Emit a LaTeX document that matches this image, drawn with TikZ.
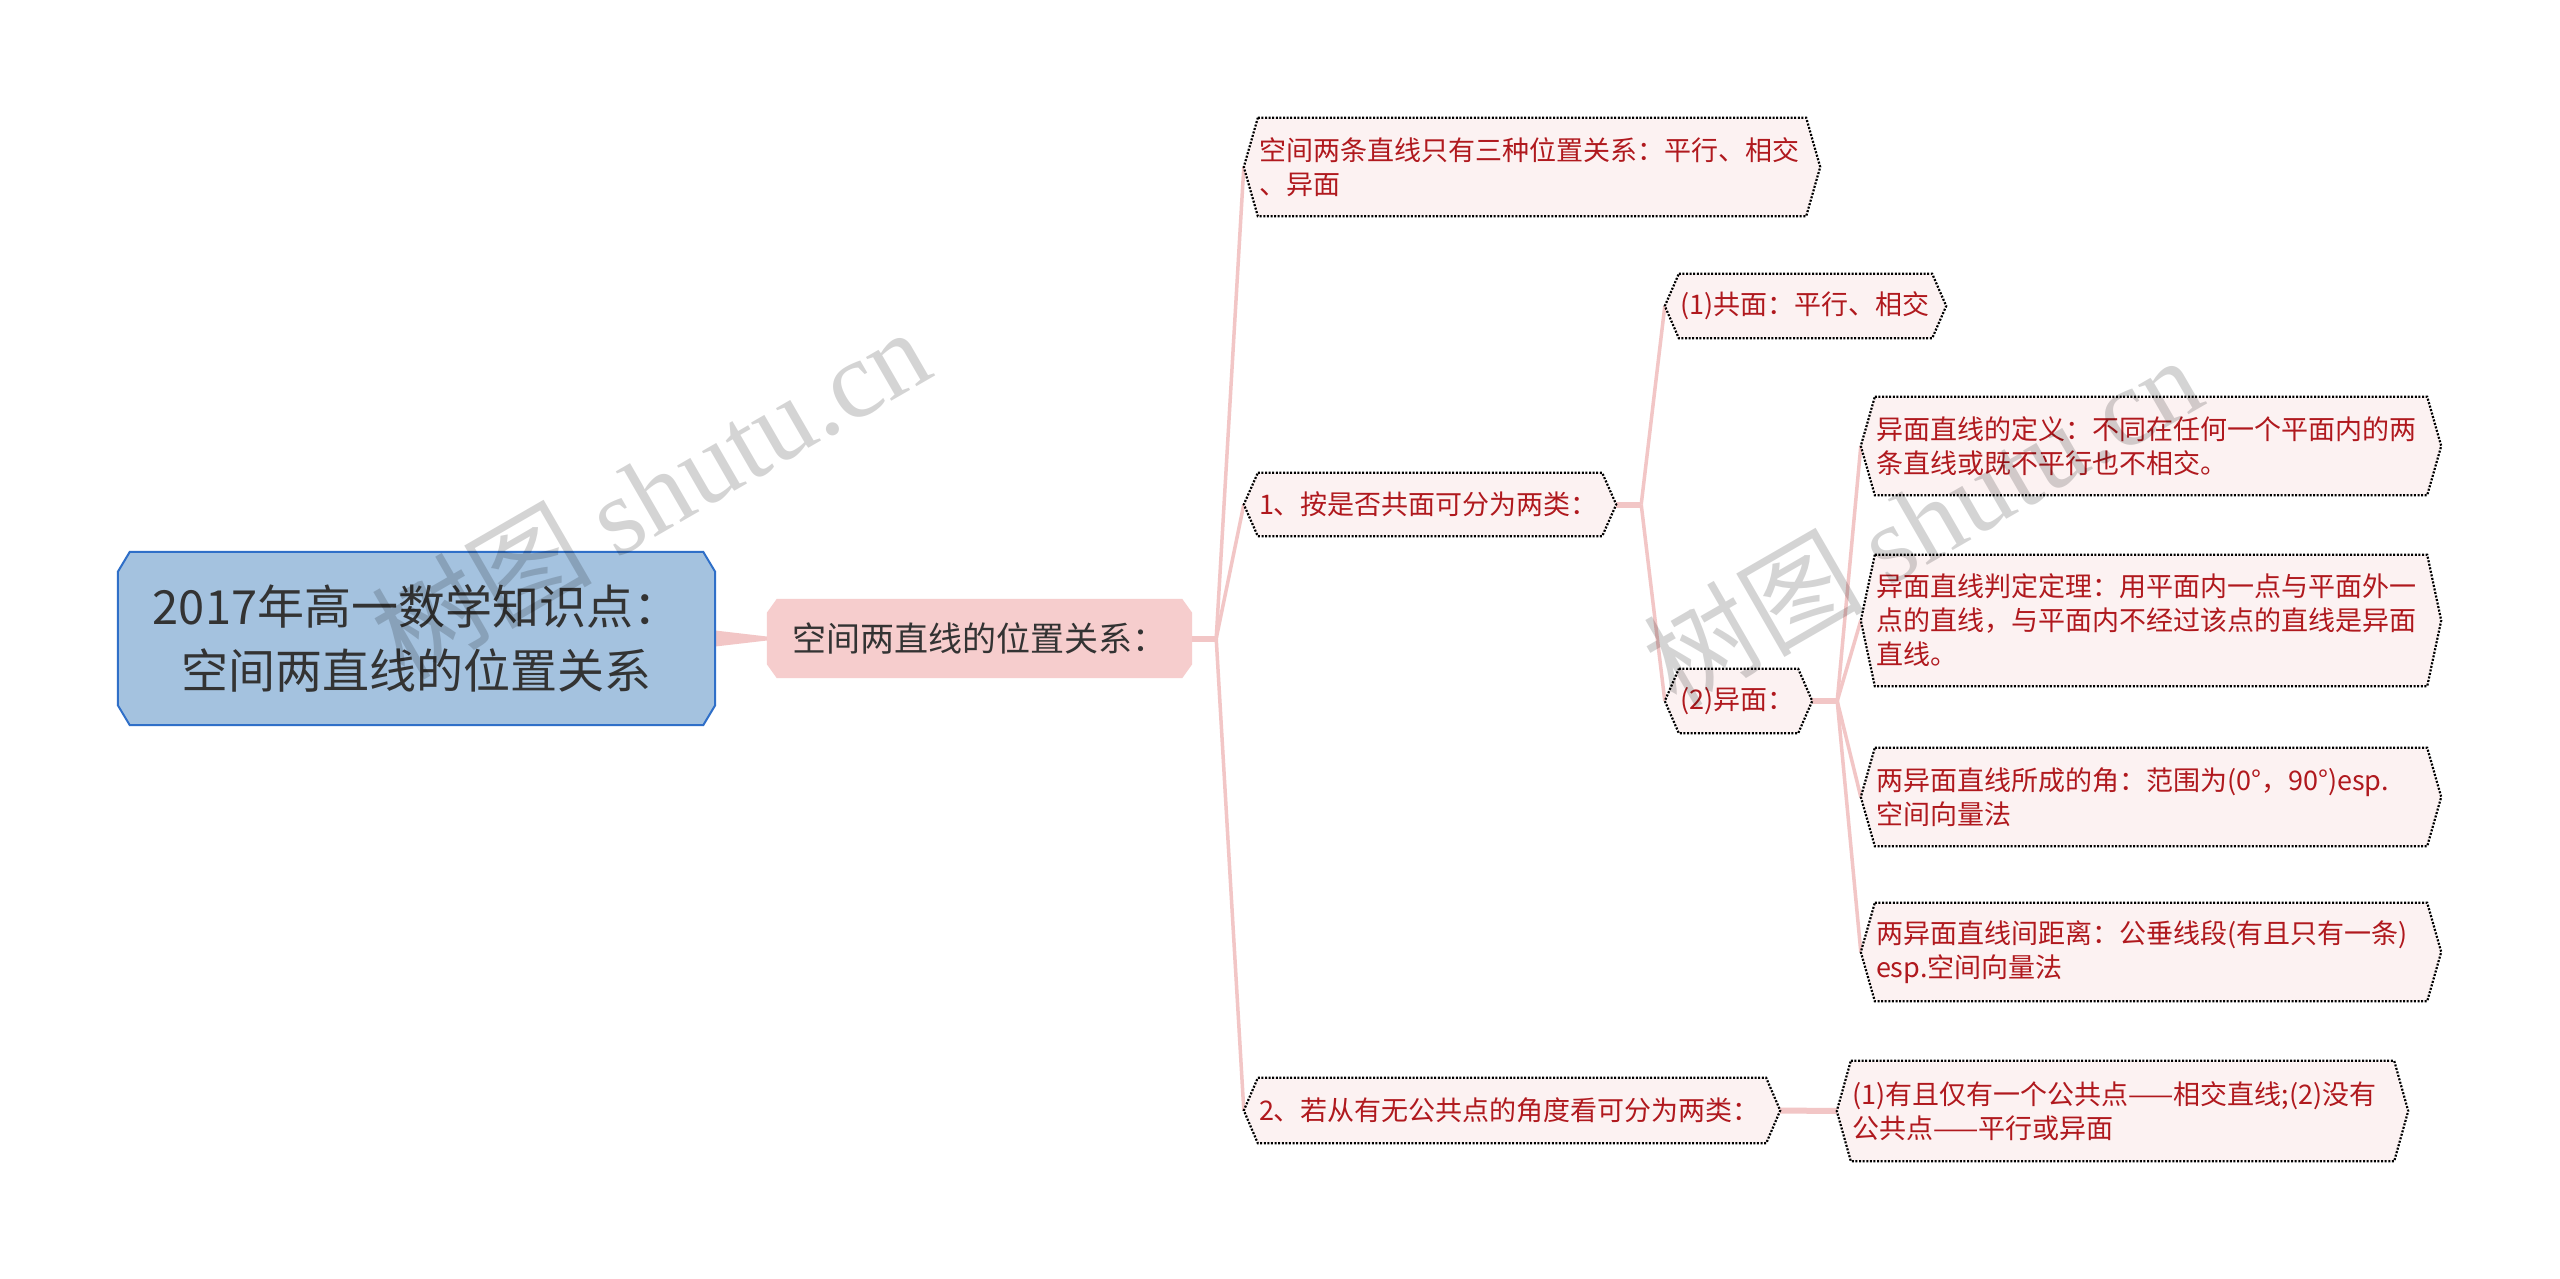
\documentclass[tikz,border=0pt]{standalone}
\usepackage{fontspec}
\setmainfont{Noto Sans CJK SC}
\newfontfamily\wmserif{Liberation Serif}
\usetikzlibrary{backgrounds,calc}
\definecolor{rootfill}{HTML}{A4C2DF}
\definecolor{rootline}{HTML}{2F6FC8}
\definecolor{mainfill}{HTML}{F6CDCD}
\definecolor{leaffill}{HTML}{FCF2F2}
\definecolor{leaftext}{HTML}{B0191E}
\definecolor{linkpink}{HTML}{F2C6C6}
\definecolor{darktext}{HTML}{333333}
\tikzset{
  leafbox/.style={draw=none, inner xsep=15pt, inner ysep=0pt, text width=#1, align=left,
    text=leaftext, font=\fontsize{27}{34}\selectfont},
  leafframe/.style={draw=black, fill=leaffill, line width=2.2pt, dash pattern=on 2pt off 1.6pt},
  rootbox/.style={draw=none, inner sep=0pt, minimum width=597pt, minimum height=173pt, align=center,
    text=darktext, font=\fontsize{47}{64}\selectfont},
  mainbox/.style={draw=none, inner sep=0pt, minimum width=425pt, minimum height=79pt, align=center,
    text=darktext, font=\fontsize{34}{40}\selectfont},
  branch/.style={draw=linkpink, line width=3.5pt},
  stub/.style={draw=linkpink, line width=6pt},
  wmark/.style={text=black, opacity=0.17, rotate=30, font=\fontsize{110}{110}\selectfont},
}
\newcommand\hexframe[1]{%
  \draw[leafframe] ([xshift=14pt]#1.north west) -- ([xshift=-14pt]#1.north east) -- (#1.east)
    -- ([xshift=-14pt]#1.south east) -- ([xshift=14pt]#1.south west) -- (#1.west) -- cycle;}
\begin{document}
\begin{tikzpicture}[x=1pt,y=-1pt]
\useasboundingbox (0,0) rectangle (2560,1278);

% nodes
\node[rootbox] (root) at (416.5,638.5) {2017年高一数学知识点：\\空间两直线的位置关系};
\node[mainbox] (main) at (979.5,638.5) {空间两直线的位置关系：};

\node[leafbox=546pt, minimum height=98pt] (A) at (1532,167)
  {空间两条直线只有三种位置关系：平行、相交\\、异面};
\node[leafbox=342pt, minimum height=63pt] (B) at (1430,504.5)
  {1、按是否共面可分为两类：};
\node[leafbox=506pt, minimum height=65pt] (C) at (1512,1110.5)
  {2、若从有无公共点的角度看可分为两类：};
\node[leafbox=251pt, minimum height=64pt] (B1) at (1805.5,306)
  {(1)共面：平行、相交};
\node[leafbox=117pt, minimum height=64pt] (B2) at (1738.5,701)
  {(2)异面：};
\node[leafbox=550pt, minimum height=98pt] (D1) at (2151,446)
  {异面直线的定义：不同在任何一个平面内的两\\条直线或既不平行也不相交。};
\node[leafbox=550pt, minimum height=131pt] (D2) at (2151,620.5)
  {异面直线判定定理：用平面内一点与平面外一\\点的直线，与平面内不经过该点的直线是异面\\直线。};
\node[leafbox=550pt, minimum height=98pt] (D3) at (2151,797)
  {两异面直线所成的角：范围为(0°，90°)esp.\\空间向量法};
\node[leafbox=550pt, minimum height=98pt] (D4) at (2151,952)
  {两异面直线间距离：公垂线段(有且只有一条)\\esp.空间向量法};
\node[leafbox=541pt, minimum height=100pt] (C1) at (2122.5,1111)
  {(1)有且仅有一个公共点——相交直线;(2)没有\\公共点——平行或异面};

% watermarks
\node[wmark] (wm1) at (650,492) {树图 {\wmserif shutu.cn}};
\node[wmark] (wm2) at (1922,520) {树图 {\wmserif shutu.cn}};

\begin{scope}[on background layer]
  \fill[white] (0,0) rectangle (2560,1278);
  % connectors
  \fill[linkpink] ([yshift=8pt]root.east) -- ([yshift=2pt]main.west)
     -- ([yshift=-2pt]main.west) -- ([yshift=-8pt]root.east) -- cycle;
  \draw[stub] (main.east) -- ++(24,0) coordinate (mb);
  \draw[branch] (mb) -- (A.west);
  \draw[branch] (mb) -- (B.west);
  \draw[branch] (mb) -- (C.west);
  \draw[stub] (B.east) -- ++(25,0) coordinate (bb);
  \draw[branch] (bb) -- (B1.west);
  \draw[branch] (bb) -- (B2.west);
  \draw[stub] (B2.east) -- ++(25,0) coordinate (db);
  \draw[branch] (db) -- (D1.west);
  \draw[branch] (db) -- (D2.west);
  \draw[branch] (db) -- (D3.west);
  \draw[branch] (db) -- (D4.west);
  \draw[stub] (C.east) -- (C1.west);
  % frames
  \draw[draw=rootline, fill=rootfill, line width=2pt]
    ([xshift=12pt]root.north west) -- ([xshift=-12pt]root.north east)
    -- ([yshift=-20pt]root.north east) -- ([yshift=20pt]root.south east)
    -- ([xshift=-12pt]root.south east) -- ([xshift=12pt]root.south west)
    -- ([yshift=20pt]root.south west) -- ([yshift=-20pt]root.north west) -- cycle;
  \fill[mainfill]
    ([xshift=10pt]main.north west) -- ([xshift=-10pt]main.north east)
    -- ([yshift=-14pt]main.north east) -- ([yshift=14pt]main.south east)
    -- ([xshift=-10pt]main.south east) -- ([xshift=10pt]main.south west)
    -- ([yshift=14pt]main.south west) -- ([yshift=-14pt]main.north west) -- cycle;
  \hexframe{A}\hexframe{B}\hexframe{C}\hexframe{B1}\hexframe{B2}
  \hexframe{D1}\hexframe{D2}\hexframe{D3}\hexframe{D4}\hexframe{C1}
\end{scope}
\end{tikzpicture}
\end{document}
